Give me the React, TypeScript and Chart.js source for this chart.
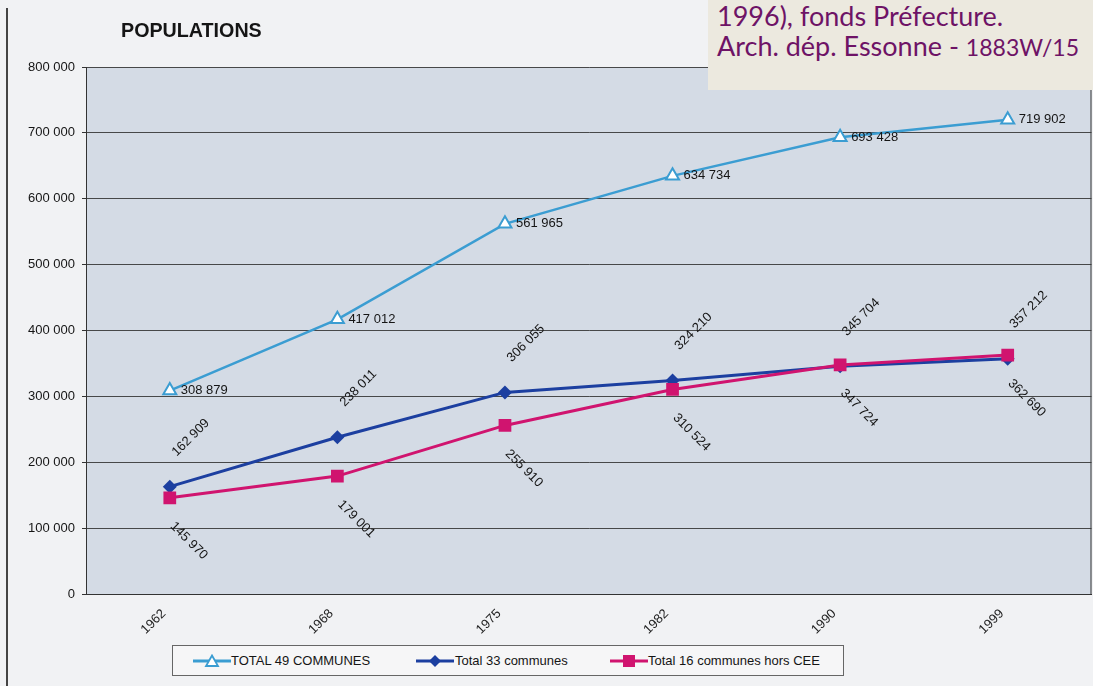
import React, { useEffect, useRef } from "react";
import { Chart, registerables } from "chart.js";

Chart.register(...registerables);

const years = ["1962", "1968", "1975", "1982", "1990", "1999"];
const total49 = [308879, 417012, 561965, 634734, 693428, 719902];
const total33 = [162909, 238011, 306055, 324210, 345704, 357212];
const total16 = [145970, 179001, 255910, 310524, 347724, 362690];
const yTicks = [0, 100000, 200000, 300000, 400000, 500000, 600000, 700000, 800000];

const seriesNames = ["TOTAL 49 COMMUNES", "Total 33 communes", "Total 16 communes hors CEE"];
const colLight = "#3b9dd2";
const colDark = "#1c3fa0";
const colPink = "#d0146f";
const FONT = "'Liberation Sans', Arial, sans-serif";

const fmt = (v: number) => String(v).replace(/\B(?=(\d{3})+(?!\d))/g, " ");

const bgPlugin = {
  id: "plotBg",
  beforeDraw(chart: any) {
    const { ctx, chartArea } = chart;
    ctx.save();
    ctx.fillStyle = "#d4dbe5";
    ctx.fillRect(chartArea.left, chartArea.top, chartArea.right - chartArea.left, chartArea.bottom - chartArea.top);
    ctx.restore();
  },
  afterDraw(chart: any) {
    const { ctx, chartArea } = chart;
    ctx.save();
    ctx.strokeStyle = "#333";
    ctx.lineWidth = 1;
    ctx.beginPath();
    ctx.moveTo(chartArea.right - 0.5, chartArea.top);
    ctx.lineTo(chartArea.right - 0.5, chartArea.bottom);
    ctx.stroke();
    ctx.restore();
  },
};

const labelPlugin = {
  id: "valueLabels",
  afterDatasetsDraw(chart: any) {
    const { ctx } = chart;
    ctx.save();
    ctx.font = `13px ${FONT}`;
    ctx.fillStyle = "#151515";
    chart.data.datasets.forEach((ds: any, di: number) => {
      const meta = chart.getDatasetMeta(di);
      meta.data.forEach((pt: any, i: number) => {
        const txt = fmt(ds.data[i]);
        const kind = ds.labelKind;
        if (kind === "right") {
          ctx.textAlign = "left";
          ctx.textBaseline = "middle";
          ctx.fillText(txt, pt.x + 11, pt.y);
        } else if (kind === "above") {
          ctx.save();
          ctx.translate(pt.x + 21, pt.y - 49);
          ctx.rotate(-Math.PI / 4);
          ctx.textAlign = "center";
          ctx.textBaseline = "middle";
          ctx.fillText(txt, 0, 0);
          ctx.restore();
        } else {
          ctx.save();
          ctx.translate(pt.x + 19, pt.y + 43);
          ctx.rotate(Math.PI / 4);
          ctx.textAlign = "center";
          ctx.textBaseline = "middle";
          ctx.fillText(txt, 0, 0);
          ctx.restore();
        }
      });
    });
    ctx.restore();
  },
};

function LegendIcon({ kind, color }: { kind: string; color: string }) {
  return (
    <svg width="38" height="14" style={{ display: "block" }}>
      <line x1="0" y1="7" x2="38" y2="7" stroke={color} strokeWidth="3" />
      {kind === "tri" && <polygon points="19,1.5 25,12 13,12" fill="#fff" stroke={color} strokeWidth="1.8" />}
      {kind === "dia" && <polygon points="19,1 25,7 19,13 13,7" fill={color} />}
      {kind === "sq" && <rect x="13" y="1" width="12" height="12" fill={color} />}
    </svg>
  );
}

export default function App() {
  const ref = useRef<HTMLCanvasElement | null>(null);

  useEffect(() => {
    if (!ref.current) return;
    const chart = new Chart(ref.current, {
      type: "line",
      data: {
        labels: years,
        datasets: [
          {
            label: seriesNames[0],
            data: total49,
            borderColor: colLight,
            backgroundColor: "#ffffff",
            borderWidth: 2.5,
            pointStyle: "triangle",
            pointRadius: 7.5,
            pointBorderWidth: 2,
            pointBackgroundColor: "#ffffff",
            pointBorderColor: colLight,
            labelKind: "right",
            order: 2,
          } as any,
          {
            label: seriesNames[1],
            data: total33,
            borderColor: colDark,
            backgroundColor: colDark,
            borderWidth: 3,
            pointStyle: "rectRot",
            pointRadius: 7,
            pointBorderWidth: 0,
            pointBackgroundColor: colDark,
            labelKind: "above",
            order: 1,
          } as any,
          {
            label: seriesNames[2],
            data: total16,
            borderColor: colPink,
            backgroundColor: colPink,
            borderWidth: 3,
            pointStyle: "rect",
            pointRadius: 9,
            pointBorderWidth: 0,
            pointBackgroundColor: colPink,
            labelKind: "below",
            order: 0,
          } as any,
        ],
      },
      options: {
        animation: false,
        responsive: false,
        maintainAspectRatio: false,
        layout: { padding: { top: 67, right: 0, bottom: 42, left: 0 } },
        plugins: {
          legend: { display: false },
          tooltip: { enabled: false },
          title: { display: false },
        },
        scales: {
          x: {
            type: "category",
            offset: true,
            grid: { display: false },
            border: { display: true, color: "#333", width: 1 },
            ticks: {
              maxRotation: 45,
              minRotation: 45,
              autoSkip: false,
              padding: 4,
              labelOffset: -6,
              color: "#222",
              font: { family: FONT, size: 13 },
            },
            afterFit(scale: any) {
              scale.height = 50;
            },
          },
          y: {
            min: 0,
            max: 800000,
            afterBuildTicks(scale: any) {
              scale.ticks = yTicks.map((v) => ({ value: v }));
            },
            ticks: {
              callback: (v: any) => fmt(Number(v)),
              color: "#151515",
              padding: 7,
              font: { family: FONT, size: 13 },
            },
            grid: {
              color: "rgba(55,55,55,0.9)",
              lineWidth: 1,
              tickLength: 4,
              tickColor: "#333",
            },
            border: { display: true, color: "#333", width: 1 },
            afterFit(scale: any) {
              scale.width = 86;
            },
          },
        },
      } as any,
      plugins: [bgPlugin, labelPlugin],
    });
    return () => chart.destroy();
  }, []);

  return (
    <div
      style={{
        position: "absolute",
        left: 0,
        top: 0,
        width: 1093,
        height: 686,
        background: "#f1f2f4",
        overflow: "hidden",
        fontFamily: FONT,
      }}
    >
      <canvas ref={ref} width={1101} height={686} style={{ position: "absolute", left: 0, top: 0 }} />
      <div style={{ position: "absolute", left: 6, top: 8, width: 2, height: 678, background: "#444" }} />
      <div
        style={{
          position: "absolute",
          left: 121,
          top: 19,
          fontSize: 19.7,
          fontWeight: "bold",
          color: "#151515",
          fontFamily: FONT,
        }}
      >
        POPULATIONS
      </div>
      <div
        style={{
          position: "absolute",
          left: 708,
          top: 0,
          width: 385,
          height: 90,
          background: "#ece9df",
          color: "#6e1366",
          fontFamily: "Lato, 'Open Sans', sans-serif",
          lineHeight: 1,
        }}
      >
        <div style={{ position: "absolute", left: 9, top: 2, fontSize: 27, whiteSpace: "nowrap" }}>
          1996), fonds Préfecture.
        </div>
        <div style={{ position: "absolute", left: 9, top: 32, fontSize: 27, whiteSpace: "nowrap" }}>
          Arch. dép. Essonne - <span style={{ fontSize: 23 }}>1883W/15</span>
        </div>
      </div>
      <div
        style={{
          position: "absolute",
          left: 172,
          top: 645,
          width: 670,
          height: 29,
          border: "1px solid #666",
          background: "#f6f6f7",
          fontSize: 13,
          color: "#151515",
          fontFamily: FONT,
        }}
      >
        <div style={{ position: "absolute", left: 20, top: 8 }}>
          <LegendIcon kind="tri" color={colLight} />
        </div>
        <div style={{ position: "absolute", left: 58, top: 7, whiteSpace: "nowrap" }}>{seriesNames[0]}</div>
        <div style={{ position: "absolute", left: 243, top: 8 }}>
          <LegendIcon kind="dia" color={colDark} />
        </div>
        <div style={{ position: "absolute", left: 282, top: 7, whiteSpace: "nowrap" }}>{seriesNames[1]}</div>
        <div style={{ position: "absolute", left: 437, top: 8 }}>
          <LegendIcon kind="sq" color={colPink} />
        </div>
        <div style={{ position: "absolute", left: 475, top: 7, whiteSpace: "nowrap" }}>{seriesNames[2]}</div>
      </div>
    </div>
  );
}
